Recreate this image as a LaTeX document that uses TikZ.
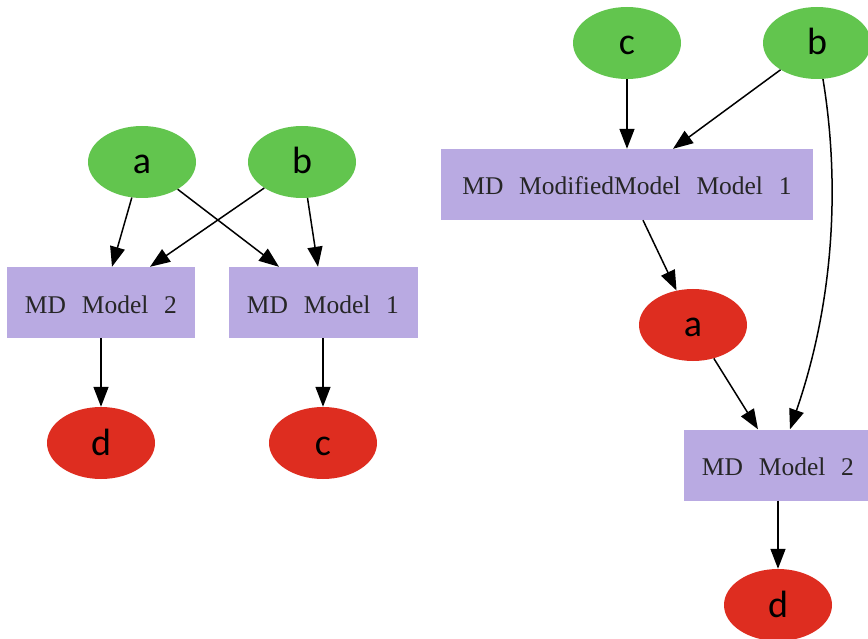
\documentclass[tikz,border=0pt]{standalone}
\usepackage{fontspec}
\setmainfont{Liberation Serif}
\newfontfamily\varfont{Carlito}
\usetikzlibrary{shapes.geometric,arrows.meta}
\definecolor{srcgreen}{RGB}{98,197,78}
\definecolor{sinkred}{RGB}{222,45,32}
\definecolor{modelpurple}{RGB}{185,170,226}
\newcommand\wsp{\hspace{0.62em}}
\begin{document}
\begin{tikzpicture}[x=1pt,y=-1pt,
  var/.style={ellipse, minimum width=108pt, minimum height=72pt, inner sep=0pt,
    text height=24pt, text depth=0pt,
    font=\varfont\fontsize{38}{38}\selectfont},
  invar/.style={var, fill=srcgreen},
  outvar/.style={var, fill=sinkred},
  model/.style={rectangle, fill=modelpurple, minimum height=71pt, inner sep=0pt,
    text height=21pt, text depth=0pt,
    font=\fontsize{25.5}{25.5}\selectfont, text=black!85},
  link/.style={-{Triangle[length=20pt,width=15pt]}, line width=1.5pt}]
\clip (0,0) rectangle (868,639);
\useasboundingbox (0,0) rectangle (868,639);

% first graph
\node[invar] (la) at (142,162) {a};
\node[invar] (lb) at (302,162) {b};
\node[model, minimum width=188pt] (lm2) at (101,302.5) {MD\wsp Model\wsp 2};
\node[model, minimum width=189pt] (lm1) at (323,302.5) {MD\wsp Model\wsp 1};
\node[outvar] (ld) at (101,443) {d};
\node[outvar] (lc) at (323,443) {c};

\draw[link] (la) -- ([xshift=11pt]lm2.north);
\draw[link] (la) -- ([xshift=-44pt]lm1.north);
\draw[link] (lb) -- ([xshift=49pt]lm2.north);
\draw[link] (lb) -- ([xshift=-5pt]lm1.north);
\draw[link] (lm2) -- (ld);
\draw[link] (lm1) -- (lc);

% second graph
\node[invar] (rc) at (627,43) {c};
\node[invar] (rb) at (817,43) {b};
\node[model, minimum width=372pt] (rmm) at (627,184.5) {MD\wsp ModifiedModel\wsp Model\wsp 1};
\node[outvar] (ra) at (693,325) {a};
\node[model, minimum width=188pt] (rm2) at (778,465) {MD\wsp Model\wsp 2};
\node[outvar] (rd) at (778,605) {d};

\draw[link] (rc) -- (rmm.north);
\draw[link] (rb) -- ([xshift=46pt]rmm.north);
\draw[link] ([xshift=16pt]rmm.south) -- (ra);
\draw[link] (ra) -- ([xshift=-20pt]rm2.north);
\draw[link] (rb) .. controls (838,170) and (838,290) .. ([xshift=12pt]rm2.north);
\draw[link] (rm2) -- (rd);
\end{tikzpicture}
\end{document}
